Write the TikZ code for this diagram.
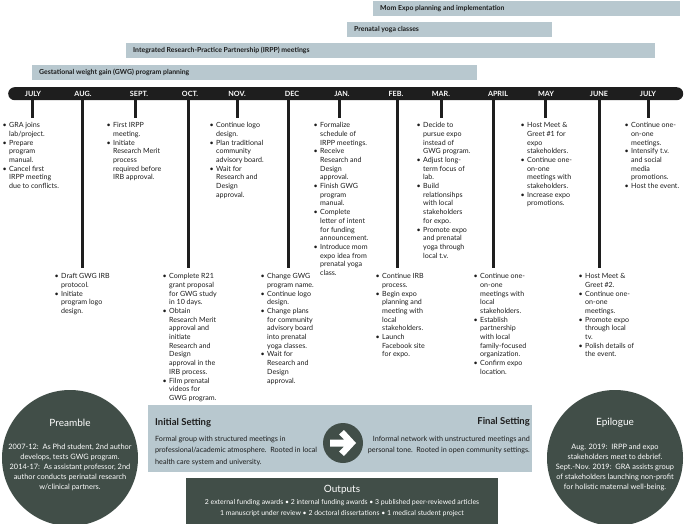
\documentclass[tikz,border=0pt]{standalone}
\usepackage{fontspec}
\setmainfont{Lato}
\usetikzlibrary{calc}
\definecolor{barblue}{RGB}{184,200,207}
\definecolor{darkgreen}{RGB}{65,78,72}
\definecolor{tlblack}{RGB}{30,30,30}
\definecolor{txt}{RGB}{28,28,28}
\newcommand\bl{\makebox[6.5bp][l]{\textbullet}}
\newcommand\cl[1]{\begin{tabular}{@{}l@{}l@{}}#1\end{tabular}}
\newcommand\ctab[1]{\begin{tabular}{@{}c@{}}#1\end{tabular}}
\newcommand\ltab[1]{\begin{tabular}{@{}l@{}}#1\end{tabular}}
\newcommand\rtab[1]{\begin{tabular}{@{}r@{}}#1\end{tabular}}
\tikzset{
  bar/.style={fill=barblue, draw=none, anchor=north west, inner sep=0},
  bartext/.style={anchor=west, inner sep=0, font=\fontsize{6.9bp}{8bp}\selectfont\bfseries, text=txt},
  month/.style={inner sep=0, font=\fontsize{7.2bp}{8bp}\selectfont\bfseries, text=white},
  stem/.style={line width=3bp, draw=tlblack},
  col/.style={anchor=north west, inner sep=0, font=\fontsize{7.1bp}{8.7bp}\selectfont, text=txt},
  darkfill/.style={fill=darkgreen, draw=none, inner sep=0},
  whitetext/.style={text=white, inner sep=0},
}
\begin{document}
\begin{tikzpicture}[x=1bp,y=-1bp]
\useasboundingbox (0,0) rectangle (685,524);
% ---------- top bars
\node[bar, minimum width=307bp, minimum height=15bp] (b4) at (373,1) {};
\node[bartext] (b4t) at ($(b4.west)+(7,0)$) {Mom Expo planning and implementation};
\node[bar, minimum width=205bp, minimum height=15bp] (b3) at (347,22) {};
\node[bartext] (b3t) at ($(b3.west)+(7,0)$) {Prenatal yoga classes};
\node[bar, minimum width=529bp, minimum height=15bp] (b2) at (126,43) {};
\node[bartext] (b2t) at ($(b2.west)+(7,0)$) {Integrated Research-Practice Partnership (IRPP) meetings};
\node[bar, minimum width=445bp, minimum height=15bp] (b1) at (32,65) {};
\node[bartext] (b1t) at ($(b1.west)+(7,0)$) {Gestational weight gain (GWG) program planning};
% ---------- timeline
\node[fill=tlblack, rounded corners=6.5bp, minimum width=675bp, minimum height=13bp, anchor=north west, inner sep=0] (tl) at (8,87) {};
\foreach \n/\x/\t in {1/33/JULY,2/83/AUG.,3/139/SEPT.,4/190/OCT.,5/237/NOV.,6/292/DEC,7/342/JAN.,8/396/FEB.,9/441/MAR.,10/498/APRIL,11/546/MAY,12/599/JUNE,13/648/JULY}
  \node[month] (m\n) at (\x,93.7) {\t};
% ---------- stems
\foreach \n/\x in {1/32,3/135,5/237,7/339,9/441,11/545,13/648}{
  \coordinate (sa\n) at (\x,100); \coordinate (sb\n) at (\x,118);
  \draw[stem] (sa\n) -- (sb\n);}
\foreach \n/\x in {2/82,4/188,6/288,8/397,10/493,12/599}{
  \coordinate (sa\n) at (\x,100); \coordinate (sb\n) at (\x,268);
  \draw[stem] (sa\n) -- (sb\n);}
% ---------- top columns
\node[col] (c1) at (2.5,121.4) {\cl{\bl & GRA joins\\ & lab/project.\\ \bl & Prepare\\ & program\\ & manual.\\ \bl & Cancel first\\ & IRPP meeting\\ & due to conflicts.}};
\node[col] (c3) at (106.5,121.4) {\cl{\bl & First IRPP\\ & meeting.\\ \bl & Initiate\\ & Research Merit\\ & process\\ & required before\\ & IRB approval.}};
\node[col] (c5) at (209.5,121.4) {\cl{\bl & Continue logo\\ & design.\\ \bl & Plan traditional\\ & community\\ & advisory board.\\ \bl & Wait for\\ & Research and\\ & Design\\ & approval.}};
\node[col] (c7) at (313.5,121.4) {\cl{\bl & Formalize\\ & schedule of\\ & IRPP meetings.\\ \bl & Receive\\ & Research and\\ & Design\\ & approval.\\ \bl & Finish GWG\\ & program\\ & manual.\\ \bl & Complete\\ & letter of intent\\ & for funding\\ & announcement.\\ \bl & Introduce mom\\ & expo idea from\\ & prenatal yoga\\ & class.}};
\node[col] (c9) at (416.5,121.4) {\cl{\bl & Decide to\\ & pursue expo\\ & instead of\\ & GWG program.\\ \bl & Adjust long-\\ & term focus of\\ & lab.\\ \bl & Build\\ & relationsihps\\ & with local\\ & stakeholders\\ & for expo.\\ \bl & Promote expo\\ & and prenatal\\ & yoga through\\ & local t.v.}};
\node[col] (c11) at (520.5,121.4) {\cl{\bl & Host Meet \&\\ & Greet \#1 for\\ & expo\\ & stakeholders.\\ \bl & Continue one-\\ & on-one\\ & meetings with\\ & stakeholders.\\ \bl & Increase expo\\ & promotions.}};
\node[col] (c13) at (624.5,121.4) {\cl{\bl & Continue one-\\ & on-one\\ & meetings.\\ \bl & Intensify t.v.\\ & and social\\ & media\\ & promotions.\\ \bl & Host the event.}};
% ---------- bottom columns
\node[col] (c2) at (54.5,272.4) {\cl{\bl & Draft GWG IRB\\ & protocol.\\ \bl & Initiate\\ & program logo\\ & design.}};
\node[col] (c4) at (162.5,272.4) {\cl{\bl & Complete R21\\ & grant proposal\\ & for GWG study\\ & in 10 days.\\ \bl & Obtain\\ & Research Merit\\ & approval and\\ & initiate\\ & Research and\\ & Design\\ & approval in the\\ & IRB process.\\ \bl & Film prenatal\\ & videos for\\ & GWG program.}};
\node[col] (c6) at (260.5,272.4) {\cl{\bl & Change GWG\\ & program name.\\ \bl & Continue logo\\ & design.\\ \bl & Change plans\\ & for community\\ & advisory board\\ & into prenatal\\ & yoga classes.\\ \bl & Wait for\\ & Research and\\ & Design\\ & approval.}};
\node[col] (c8) at (375.5,272.4) {\cl{\bl & Continue IRB\\ & process.\\ \bl & Begin expo\\ & planning and\\ & meeting with\\ & local\\ & stakeholders.\\ \bl & Launch\\ & Facebook site\\ & for expo.}};
\node[col] (c10) at (473.5,272.4) {\cl{\bl & Continue one-\\ & on-one\\ & meetings with\\ & local\\ & stakeholders.\\ \bl & Establish\\ & partnership\\ & with local\\ & family-focused\\ & organization.\\ \bl & Confirm expo\\ & location.}};
\node[col] (c12) at (578.5,272.4) {\cl{\bl & Host Meet \&\\ & Greet \#2.\\ \bl & Continue one-\\ & on-one\\ & meetings.\\ \bl & Promote expo\\ & through local\\ & tv.\\ \bl & Polish details of\\ & the event.}};
% ---------- setting box
\node[fill=barblue, minimum width=384bp, minimum height=67bp, anchor=north west, inner sep=0] (setbox) at (148,405) {};
\node[anchor=west, inner sep=0, font=\fontsize{9.5bp}{11bp}\selectfont\bfseries, text=txt] (initT) at (155,423) {Initial Setting};
\node[anchor=north west, inner sep=0, font=\fontsize{7.2bp}{11.2bp}\selectfont, text=txt] (initX) at (155,433.7) {\ltab{Formal group with structured meetings in\\professional/academic atmosphere.\ \ Rooted in local\\health care system and university.}};
\node[anchor=east, inner sep=0, font=\fontsize{9.5bp}{11bp}\selectfont\bfseries, text=txt] (finT) at (530,422) {Final Setting};
\node[anchor=north east, inner sep=0, font=\fontsize{7.2bp}{11.2bp}\selectfont, text=txt] (finX) at (530,433.7) {\rtab{Informal network with unstructured meetings and\\personal tone.\ \ Rooted in open community settings.}};
\node[darkfill, circle, minimum size=40bp] (arr) at (343,443) {};
\fill[white] ($(arr)+(-13,-3.5)$) -- ($(arr)+(1,-3.5)$) -- ($(arr)+(-4,-8.5)$) -- ($(arr)+(1,-13)$) -- ($(arr)+(13,0)$) -- ($(arr)+(1,13)$) -- ($(arr)+(-4,8.5)$) -- ($(arr)+(1,3.5)$) -- ($(arr)+(-13,3.5)$) -- cycle;
% ---------- outputs
\node[darkfill, minimum width=312bp, minimum height=46bp, anchor=north west] (outbox) at (186,478) {};
\node[whitetext, font=\fontsize{10bp}{12bp}\selectfont] (outT) at (342,489.5) {Outputs};
\node[whitetext, anchor=north, font=\fontsize{6.9bp}{10.3bp}\selectfont] (outX) at (342,497.3) {\ctab{2 external funding awards \textbullet\ 2 internal funding awards \textbullet\ 3 published peer-reviewed articles\\1 manuscript under review \textbullet\ 2 doctoral dissertations \textbullet\ 1 medical student project}};
% ---------- preamble / epilogue
\node[darkfill, circle, minimum size=136bp] (pre) at (70,458) {};
\node[whitetext, font=\fontsize{10bp}{12bp}\selectfont] (preT) at (70,423) {Preamble};
\node[whitetext, anchor=north, font=\fontsize{7.4bp}{9.9bp}\selectfont] (preX) at (70,442.6) {\ctab{2007-12:\ \ As Phd student, 2nd author\\develops, tests GWG program.\\2014-17:\ \ As assistant professor, 2nd\\author conducts perinatal research\\w/clinical partners.}};
\node[darkfill, circle, minimum size=136bp] (epi) at (615,458) {};
\node[whitetext, font=\fontsize{10bp}{12bp}\selectfont] (epiT) at (615,423) {Epilogue};
\node[whitetext, anchor=north, font=\fontsize{7.4bp}{9.9bp}\selectfont] (epiX) at (615,442.6) {\ctab{Aug. 2019:\ \ IRPP and expo\\stakeholders meet to debrief.\\Sept.-Nov. 2019:\ \ GRA assists group\\of stakeholders launching non-profit\\for holistic maternal well-being.}};
\end{tikzpicture}
\end{document}
